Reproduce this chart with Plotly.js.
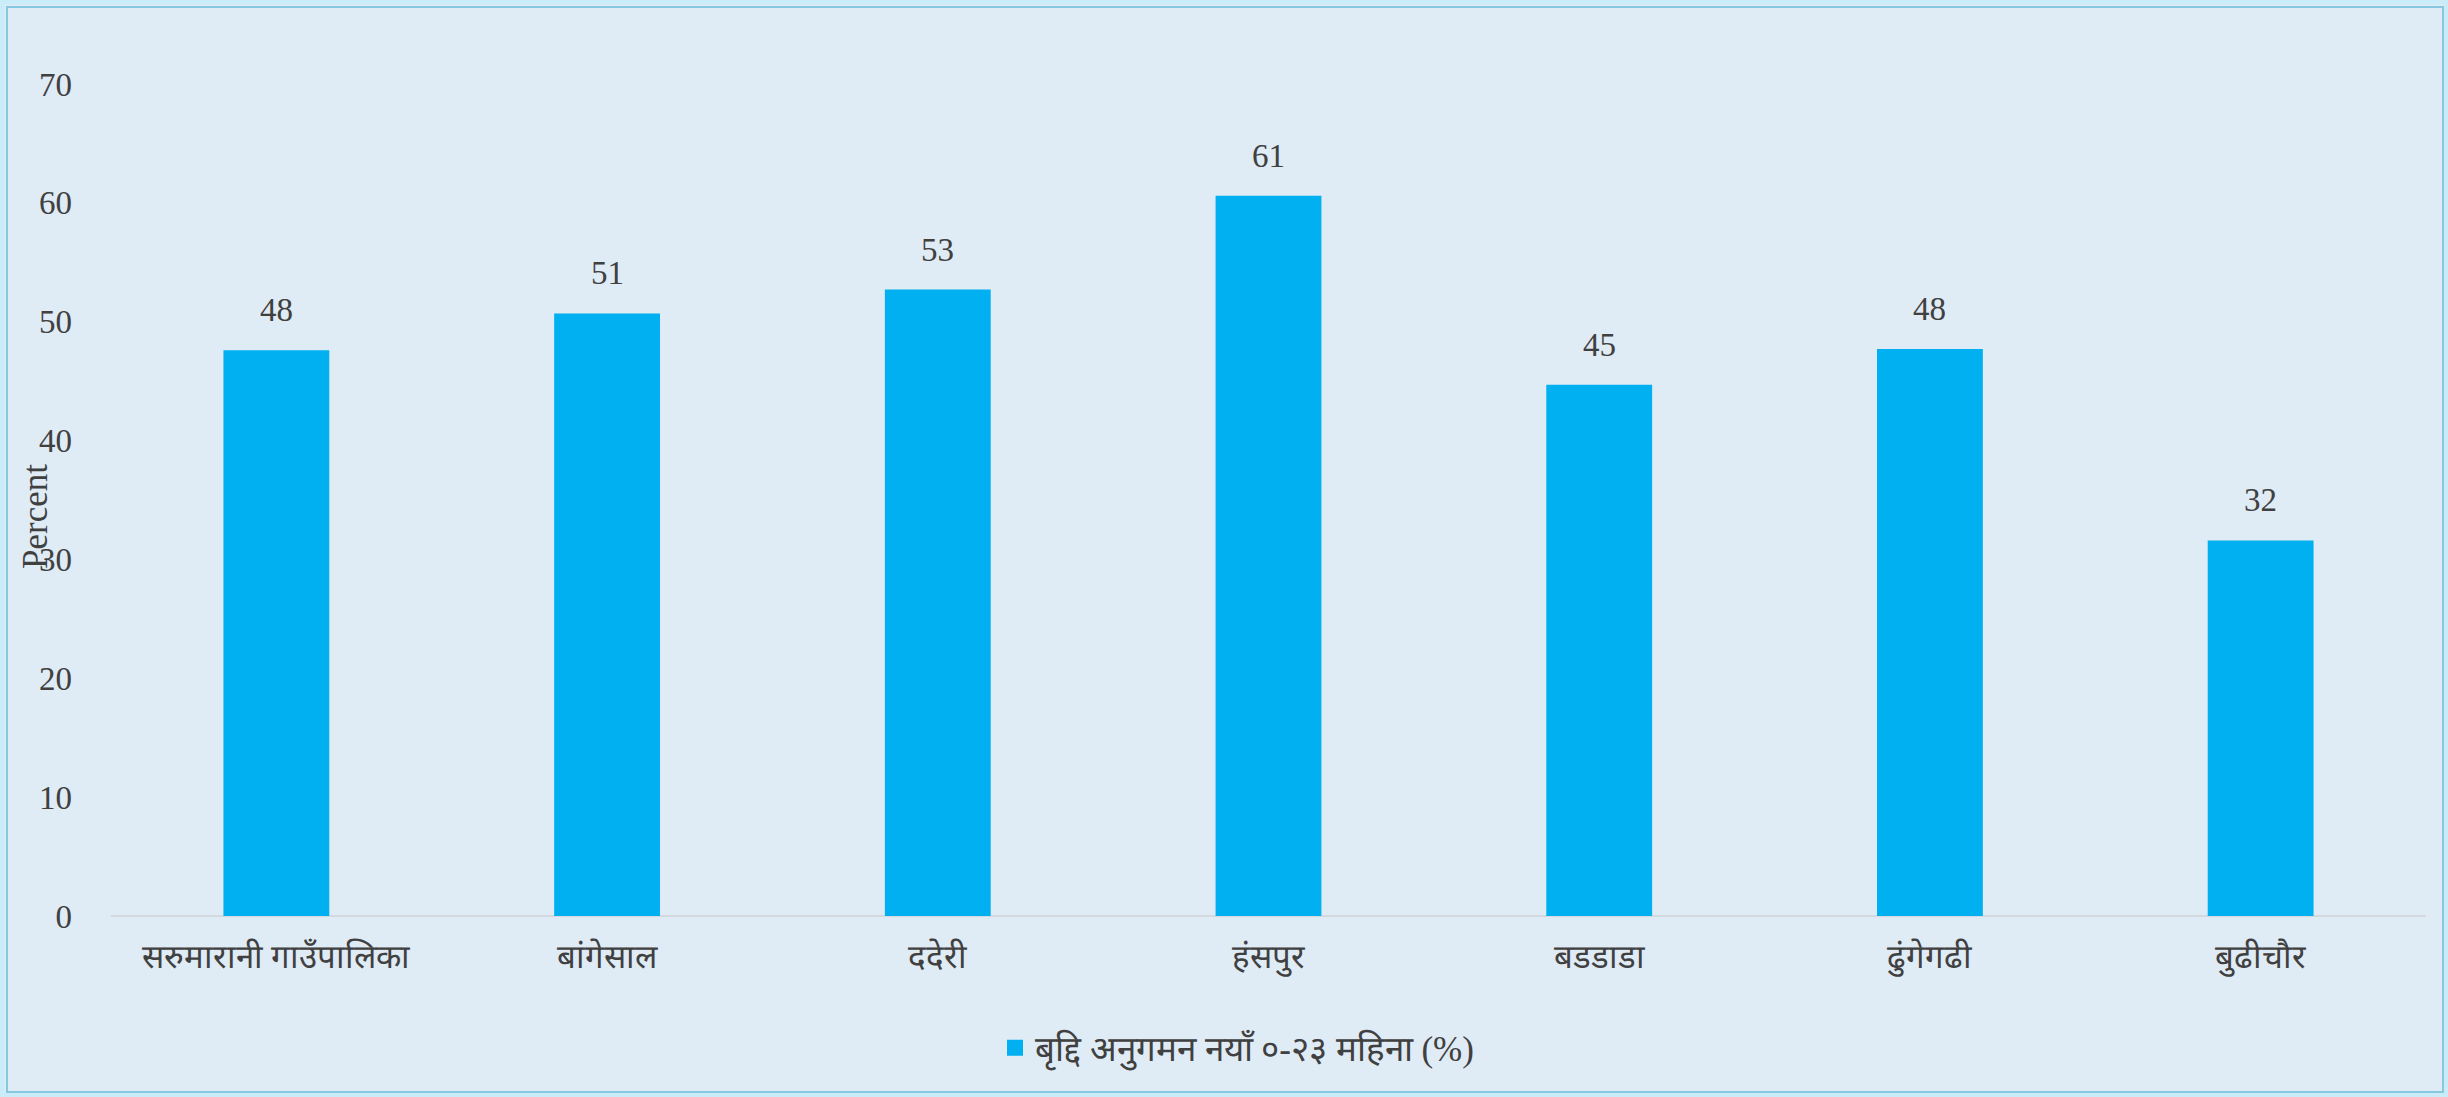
<!DOCTYPE html>
<html>
<head>
<meta charset="utf-8">
<script src="https://cdn.plot.ly/plotly-3.0.1.min.js"></script>
<style>
html,body{margin:0;padding:0;background:#dfebf5;}
#chart{width:2448px;height:1097px;}
</style>
</head>
<body>
<div id="chart"></div>
<script>
const categories = ["सरुमारानी गाउँपालिका", "बांगेसाल", "ददेरी", "हंसपुर", "बडडाडा", "ढुंगेगढी", "बुढीचौर"];
const values = [47.6, 50.7, 52.7, 60.6, 44.7, 47.7, 31.6];
const seriesName = "बृद्दि अनुगमन नयाँ ०-२३ महिना (%)";
const yTicks = [0, 10, 20, 30, 40, 50, 60, 70];

const W = 2448, H = 1097;
const mL = 111, mR = 22, mT = 84, mB = 181;
const pw = W - mL - mR, ph = H - mT - mB;
const px = v => (v - mL) / pw;
const py = v => (H - mB - v) / ph;
const barColor = '#00b0f0';
const txtColor = '#404040';

const barTrace = {
  type: 'bar',
  x: categories,
  y: values,
  name: seriesName,
  marker: {color: barColor},
  width: 0.32,
  showlegend: false,
  hoverinfo: 'skip'
};

// legend entry with a larger square swatch (no data)
const legendTrace = {
  type: 'scatter', mode: 'markers',
  x: [null], y: [null],
  name: seriesName,
  marker: {symbol: 'square', size: 22, color: barColor},
  showlegend: true, hoverinfo: 'skip'
};

const labelAnnotations = categories.map((c, i) => ({
  x: c, y: values[i], xref: 'x', yref: 'y',
  text: values[i].toFixed(0), showarrow: false,
  xanchor: 'center', yanchor: 'middle', yshift: 40,
  font: {family: 'Liberation Serif, serif', size: 33, color: txtColor}
}));

const layout = {
  width: W, height: H,
  margin: {l: mL, r: mR, t: mT, b: mB, pad: 0},
  paper_bgcolor: '#dfebf5',
  plot_bgcolor: 'rgba(0,0,0,0)',
  font: {family: 'Liberation Serif, serif', color: txtColor},
  showlegend: true,
  legend: {
    orientation: 'h', x: px(1237), xanchor: 'center', y: py(1048), yanchor: 'middle',
    font: {size: 35, color: txtColor}, bgcolor: 'rgba(0,0,0,0)',
    itemwidth: 30
  },
  xaxis: {
    type: 'category',
    showgrid: false, zeroline: false, showline: false,
    ticks: '', ticklabelstandoff: 18,
    tickfont: {size: 33, color: txtColor}
  },
  yaxis: {
    range: [0, 70],
    tickvals: yTicks,
    ticktext: yTicks.map(String),
    showgrid: false,
    zeroline: true, zerolinecolor: '#d3d9df', zerolinewidth: 2,
    showline: false, ticks: '', ticklabelstandoff: 38,
    tickfont: {size: 33, color: txtColor}
  },
  annotations: [{
    text: 'Percent', textangle: -90, showarrow: false,
    xref: 'paper', yref: 'paper', x: px(35), y: py(517),
    xanchor: 'center', yanchor: 'middle',
    font: {size: 35, color: txtColor, family: 'Liberation Serif, serif'}
  }].concat(labelAnnotations),
  shapes: [{
    type: 'rect', xref: 'paper', yref: 'paper',
    x0: px(2), x1: px(W - 2), y0: py(H - 2), y1: py(2),
    line: {color: '#c9ecf8', width: 5}, fillcolor: 'rgba(0,0,0,0)', layer: 'below'
  }, {
    type: 'rect', xref: 'paper', yref: 'paper',
    x0: px(7), x1: px(W - 5), y0: py(H - 5), y1: py(7),
    line: {color: '#86c8e0', width: 2}, fillcolor: 'rgba(0,0,0,0)', layer: 'below'
  }]
};

Plotly.newPlot('chart', [barTrace, legendTrace], layout, {displayModeBar: false, responsive: false});
</script>
</body>
</html>
